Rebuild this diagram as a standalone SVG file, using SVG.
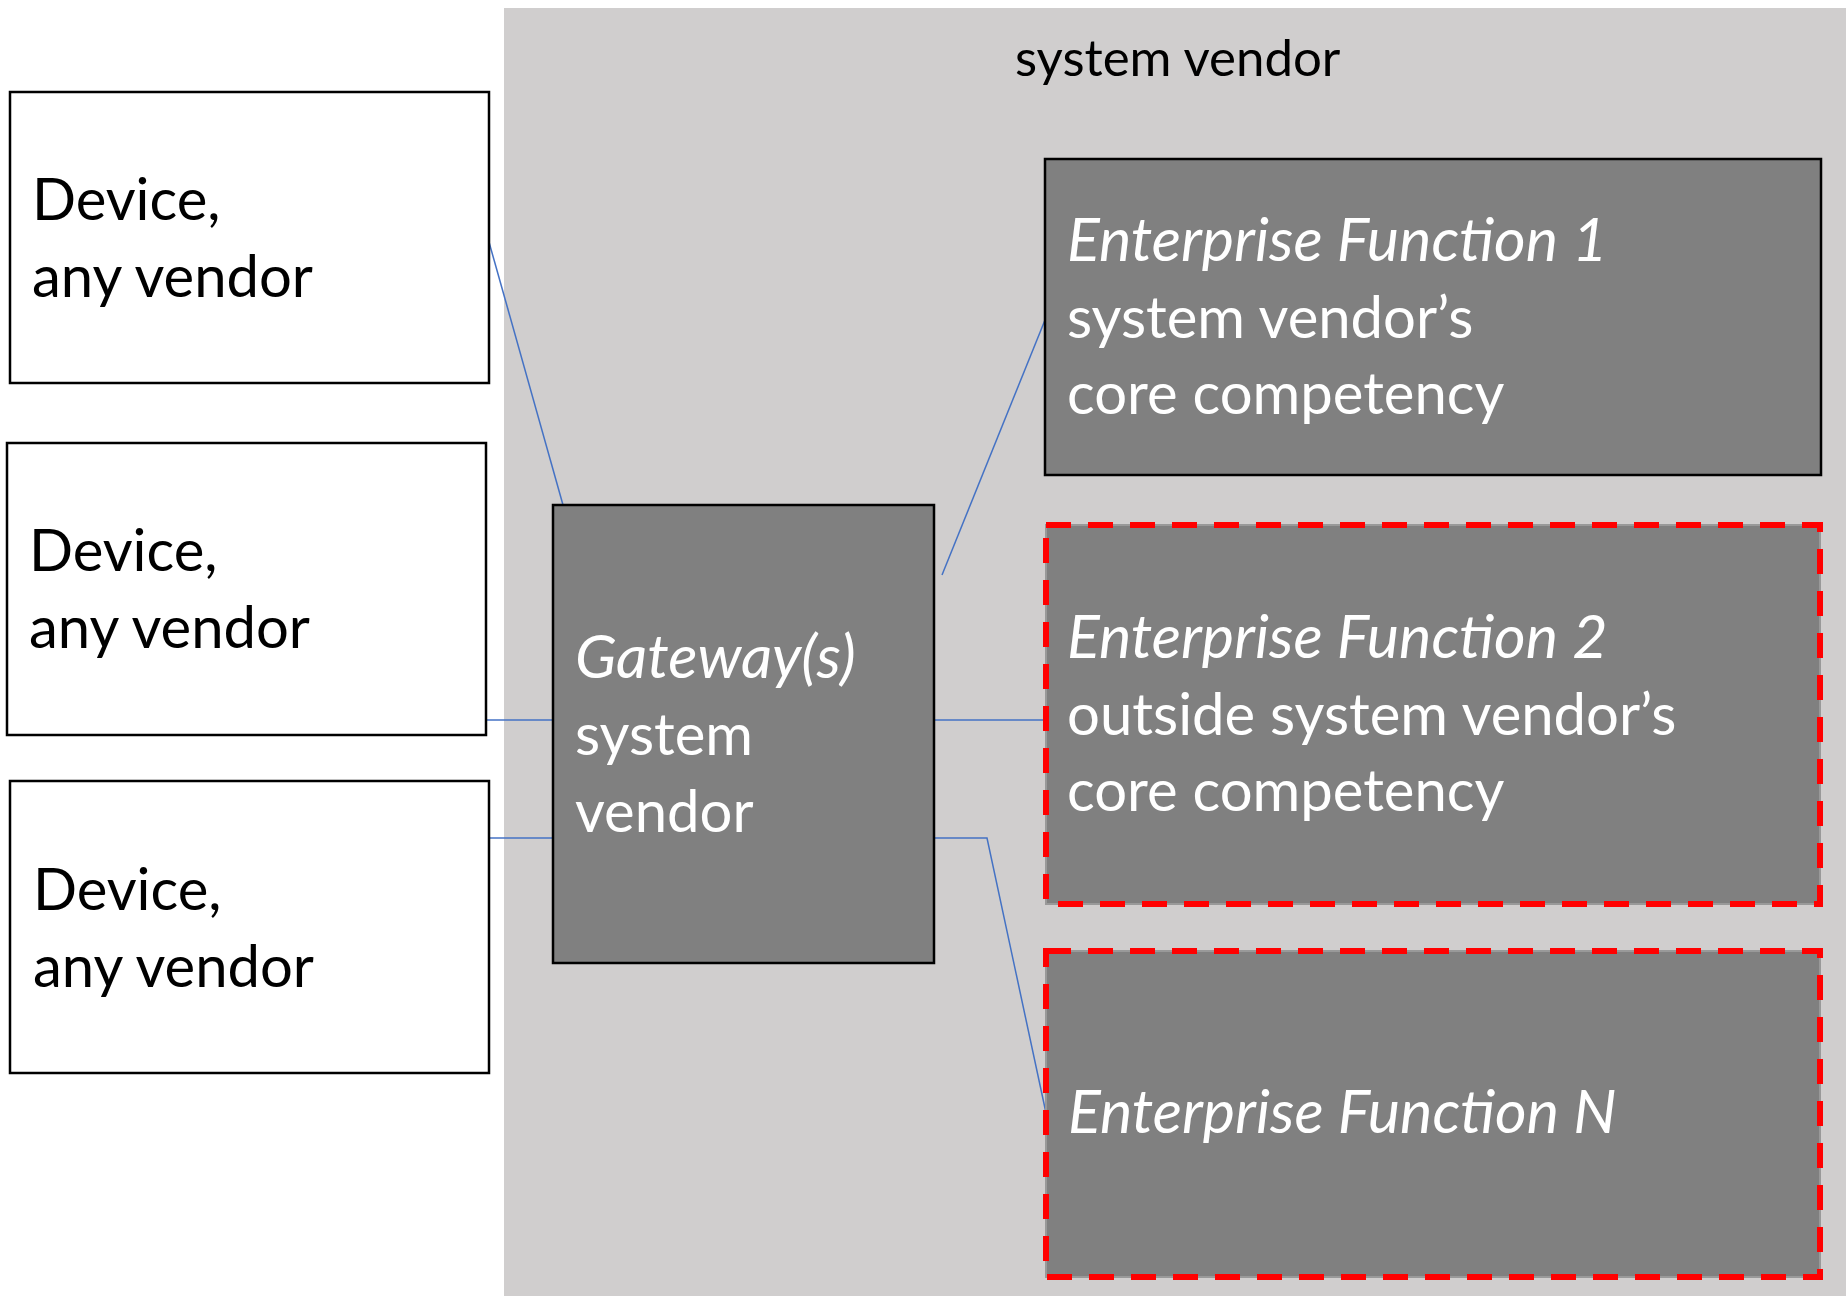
<svg xmlns="http://www.w3.org/2000/svg" width="1846" height="1296" viewBox="0 0 1846 1296">
<style>
.dev{fill:#ffffff;stroke:#000000;stroke-width:2.5}
.gw{fill:#808080;stroke:#000000;stroke-width:2.5}
.ef2{fill:#808080;stroke:#999999;stroke-width:2}
.dash{fill:none;stroke:#ff0000;stroke-width:6;stroke-dasharray:25 17}
.t{font-family:Lato,"Open Sans","Liberation Sans",sans-serif;font-size:58px}
.dk{fill:#000000}
.wt{fill:#ffffff}
.it{font-style:italic;font-size:61px}
.con{fill:none;stroke:#4472c4;stroke-width:1.5}
</style>
<rect id="container" x="504" y="8" width="1342" height="1288" fill="#d0cece"/>
<text class="t dk" x="1015" y="76" style="font-size:51px">system vendor</text>
<g id="connectors">
<line class="con" x1="489" y1="242" x2="563" y2="505"/>
<line class="con" x1="486" y1="720" x2="553" y2="720"/>
<line class="con" x1="489" y1="838" x2="553" y2="838"/>
<line class="con" x1="942" y1="575" x2="1045" y2="320"/>
<line class="con" x1="934" y1="720" x2="1046" y2="720"/>
<polyline class="con" points="934,838 987,838 1046,1113"/>
</g>
<g id="device1">
<rect class="dev" x="10" y="92" width="479" height="291"/>
<text class="t dk" x="32" y="220">Device,</text>
<text class="t dk" x="32" y="297">any vendor</text>
</g>
<g id="device2">
<rect class="dev" x="7" y="443" width="479" height="292"/>
<text class="t dk" x="29" y="571">Device,</text>
<text class="t dk" x="29" y="648">any vendor</text>
</g>
<g id="device3">
<rect class="dev" x="10" y="781" width="479" height="292"/>
<text class="t dk" x="33" y="910">Device,</text>
<text class="t dk" x="33" y="987">any vendor</text>
</g>
<g id="gateway">
<rect class="gw" x="553" y="505" width="381" height="458"/>
<text class="t wt it" x="575" y="678">Gateway(s)</text>
<text class="t wt" x="575" y="755">system</text>
<text class="t wt" x="575" y="832">vendor</text>
</g>
<g id="ef1">
<rect class="gw" x="1045" y="159" width="776" height="316"/>
<text class="t wt it" x="1067" y="261">Enterprise Function 1</text>
<text class="t wt" x="1067" y="338">system vendor’s</text>
<text class="t wt" x="1067" y="414">core competency</text>
</g>
<g id="ef2">
<rect class="ef2" x="1046" y="525" width="774" height="379"/>
<rect class="dash" x="1046" y="525" width="774" height="379"/>
<text class="t wt it" x="1067" y="658">Enterprise Function 2</text>
<text class="t wt" x="1067" y="735">outside system vendor’s</text>
<text class="t wt" x="1067" y="811">core competency</text>
</g>
<g id="efn">
<rect class="ef2" x="1046" y="951" width="774" height="326"/>
<rect class="dash" x="1046" y="951" width="774" height="326"/>
<text class="t wt it" x="1068" y="1133">Enterprise Function N</text>
</g>
</svg>
